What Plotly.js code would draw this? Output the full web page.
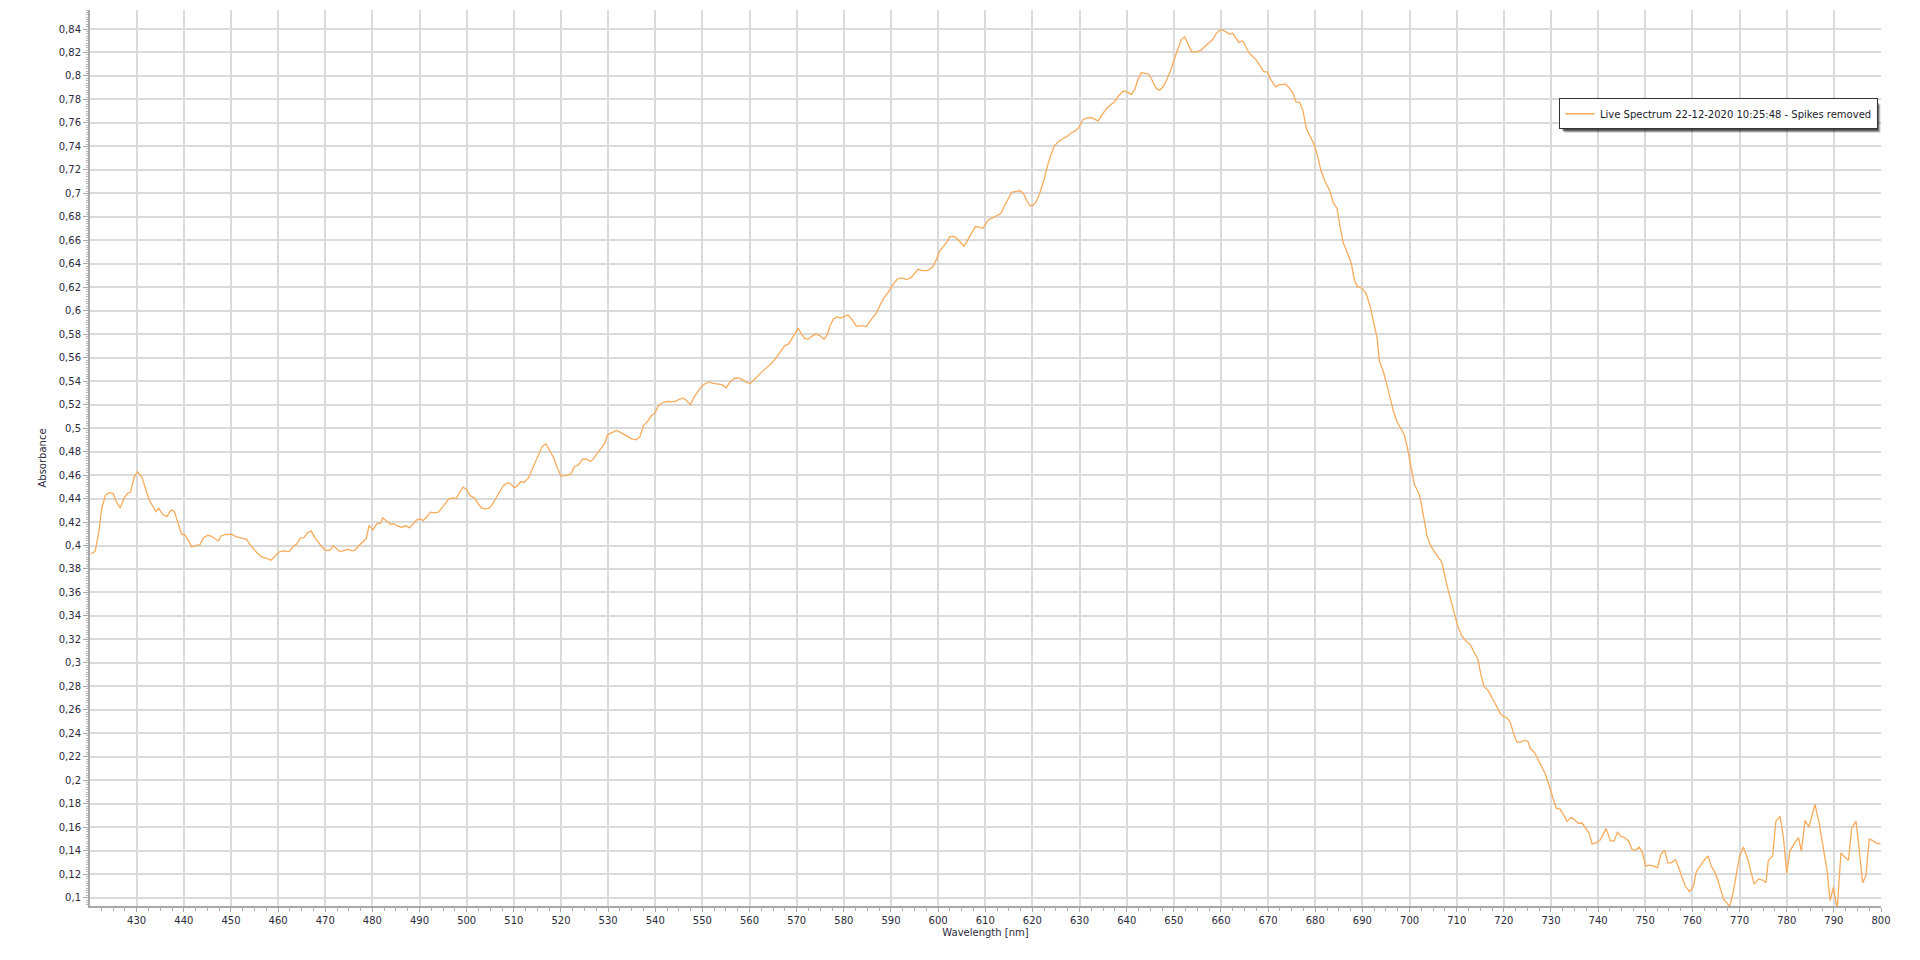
<!DOCTYPE html>
<html>
<head>
<meta charset="utf-8">
<script src="https://cdn.plot.ly/plotly-3.0.1.min.js"></script>
<style>
  html, body { margin: 0; padding: 0; background: #ffffff; }
  #chart { width: 1920px; height: 960px; }
</style>
</head>
<body>
<div id="chart"></div>
<script>
const seriesName = "Live Spectrum 22-12-2020 10:25:48 - Spikes removed";

const wavelength = [
420.3,421.2,421.9,422.6,423.4,424.1,425.0,425.7,426.5,427.4,428.1,428.7,429.5,430.2,431.1,431.8,432.6,433.4,434.1,434.7,
435.5,436.4,437.3,438.0,438.7,439.5,440.3,441.0,441.7,442.6,443.4,444.2,445.1,445.8,446.5,447.3,447.9,448.7,450.2,451.2,
452.3,453.3,454.0,454.8,455.7,456.5,457.6,458.5,459.3,460.2,461.1,462.4,463.2,463.9,464.7,465.5,466.2,467.0,467.8,468.8,
469.4,470.1,471.0,471.7,472.4,473.1,474.1,474.9,475.6,476.2,477.0,477.9,478.7,479.3,
480.1,480.9,481.7,482.2,483.1,483.9,484.6,485.5,486.3,487.0,487.9,488.6,489.4,490.1,490.8,491.6,492.3,493.1,494.0,494.7,
495.4,496.2,497.1,497.8,498.5,499.2,500.0,500.7,501.6,502.3,503.1,503.9,504.8,505.3,506.1,507.0,507.8,508.7,509.2,510.1,
510.8,511.5,512.2,513.1,513.8,514.5,515.2,516.0,516.8,517.6,518.4,519.1,520.0,520.9,522.1,522.9,523.7,524.6,525.3,526.2,
526.9,527.6,528.5,529.2,529.9,530.8,531.7,532.4,533.3,534.1,535.0,535.9,536.7,537.5,538.4,539.2,539.9,540.7,541.6,542.5,543.5,
544.1,545.8,546.5,547.5,548.2,548.9,549.8,550.5,551.4,552.3,553.3,554.2,555.0,555.8,556.7,557.6,558.5,559.3,560.2,561.1,
562.0,562.9,563.9,564.9,565.7,566.6,567.5,568.3,569.1,569.8,570.3,571.0,571.7,572.4,573.2,574.0,574.9,575.8,576.5,577.1,
577.8,578.5,579.3,580.2,580.9,581.9,582.7,583.8,584.8,585.9,587.0,587.7,588.5,589.4,590.4,591.4,592.3,593.3,594.2,595.0,
595.8,596.7,597.7,598.8,599.7,600.3,601.1,601.8,602.5,603.4,604.1,604.8,605.5,606.2,607.0,607.9,608.8,609.5,
610.6,611.5,612.6,613.3,614.1,614.8,615.6,616.5,617.4,618.1,618.8,619.5,620.2,620.9,621.6,622.5,623.2,624.0,624.7,625.6,
626.6,627.4,628.3,629.2,629.9,630.7,631.5,632.5,633.3,633.9,634.8,635.7,636.6,637.4,638.2,639.3,640.1,641.0,641.7,642.4,
643.1,644.0,644.7,645.4,646.3,647.0,647.8,648.6,649.4,650.2,650.9,651.6,652.3,653.0,653.8,654.8,655.8,656.5,657.4,658.3,
659.0,659.7,660.4,661.1,661.9,662.5,663.1,663.8,664.6,665.3,666.0,666.8,667.5,668.2,
669.1,669.8,670.5,671.6,672.3,673.7,674.4,675.2,675.9,676.7,677.4,678.1,679.0,679.8,680.5,681.2,682.1,683.1,683.8,684.6,
685.3,685.9,686.7,687.6,688.3,689.0,689.9,690.8,691.7,692.4,693.1,693.6,694.5,695.2,695.9,696.6,697.3,698.2,698.9,699.6,
700.3,701.0,
701.3,702.1,702.7,703.2,703.7,704.5,705.2,706.0,706.8,707.3,708.0,708.7,709.4,710.1,711.0,711.9,712.8,713.6,714.5,715.1,
715.8,716.6,717.5,718.4,719.2,719.9,720.6,721.3,722.0,722.7,723.4,724.4,725.1,725.7,726.5,727.2,728.1,728.8,729.5,730.2,
731.1,731.9,732.6,733.4,734.3,735.0,735.8,736.6,737.4,738.1,738.7,739.6,
740.5,741.7,742.6,743.4,744.1,744.8,745.6,746.5,747.2,747.9,748.7,749.4,750.1,750.9,751.8,752.6,753.3,754.1,754.8,755.5,
756.4,757.1,757.8,758.5,759.4,760.2,760.8,761.7,762.5,763.3,764.0,764.7,765.4,766.0,766.7,767.4,767.9,768.6,769.3,770.0,
770.8,771.7,772.4,773.1,774.0,774.9,775.6,776.1,777.0,777.7,778.6,779.3,780.0,780.7,781.6,782.5,783.1,783.9,784.7,785.5,
786.0,786.9,787.8,788.6,789.2,789.9,790.7,791.5,792.4,793.1,793.8,794.7,795.4,796.1,796.8,797.5,798.2,799.1,799.9
];

const absorbance = [
0.393,0.395,0.410,0.432,0.443,0.445,0.4445,0.437,0.432,0.441,0.4445,0.4456,0.4587,0.4627,0.4584,0.4493,0.4394,0.4337,0.4289,0.4317,
0.4266,0.4246,0.4303,0.4289,0.4209,0.4101,0.4087,0.4039,0.3988,0.4002,0.4005,0.4067,0.4087,0.4081,0.4062,0.4039,0.4081,0.4093,0.4096,0.4073,
0.4062,0.4053,0.4010,0.3968,0.3931,0.3903,0.3891,0.3874,0.3911,0.3945,0.3954,0.3948,0.3991,0.4010,0.4062,0.4067,0.4107,0.4124,0.4067,0.4019,
0.3982,0.3959,0.3959,0.3999,0.3974,0.3948,0.3959,0.3968,0.3954,0.3959,0.3993,0.4025,0.4059,0.4172,
0.4133,0.4184,0.4190,0.4236,0.4207,0.4179,0.4184,0.4162,0.4156,0.4170,0.4150,0.4184,0.4219,0.4227,0.4213,0.4247,0.4284,0.4278,0.4284,0.4318,
0.4355,0.4397,0.4406,0.4400,0.4454,0.4497,0.4477,0.4426,0.4406,0.4361,0.4321,0.4312,0.4318,0.4341,0.4397,0.4463,0.4511,0.4534,0.4531,0.4491,
0.4511,0.4545,0.4539,0.4576,0.4639,0.4701,0.4775,0.4843,0.4866,0.4804,0.4752,0.4673,0.4591,0.4596,0.4610,0.4676,0.4687,0.4735,0.4738,0.4716,
0.4738,0.4781,0.4829,0.4866,0.4943,0.4965,0.4980,0.4968,0.4946,0.4929,0.4909,0.4900,0.4923,0.5022,0.5059,0.5107,0.5127,0.5193,0.5218,0.5227,0.5230,
0.5226,0.5257,0.5240,0.5200,0.5262,0.5305,0.5353,0.5376,0.5393,0.5382,0.5376,0.5370,0.5342,0.5390,0.5424,0.5427,0.5413,0.5390,0.5382,0.5419,
0.5461,0.5490,0.5524,0.5561,0.5603,0.5654,0.5703,0.5717,0.5765,0.5816,0.5853,0.5802,0.5765,0.5757,0.5782,0.5802,0.5788,0.5757,0.5796,0.5873,
0.5930,0.5950,0.5938,0.5953,0.5964,0.5916,0.5867,0.5873,0.5865,0.5930,0.5987,0.6049,0.6109,0.6157,0.6222,0.6271,0.6279,0.6265,0.6279,0.6319,
0.6353,0.6342,0.6342,0.6370,0.6441,0.6506,0.6546,0.6583,0.6631,0.6634,0.6611,0.6575,0.6549,0.6597,0.6660,0.6717,0.6711,0.6702,
0.6771,0.6788,0.6808,0.6828,0.6894,0.6951,0.7008,0.7016,0.7022,0.6999,0.6936,0.6894,0.6899,0.6936,0.7008,0.7122,0.7236,0.7336,0.7407,0.7444,
0.7464,0.7487,0.7516,0.7536,0.7564,0.7627,0.7641,0.7644,0.7630,0.7615,0.7670,0.7721,0.7755,0.7778,0.7827,0.7872,0.7864,0.7844,0.7884,0.7972,
0.8029,0.8021,0.8015,0.7964,0.7892,0.7878,0.7912,0.7978,0.8055,0.8155,0.8240,0.8312,0.8334,0.8269,0.8206,0.8206,0.8220,0.8249,0.8277,0.8312,
0.8363,0.8391,0.8391,0.8374,0.8357,0.8363,0.8326,0.8286,0.8300,0.8249,0.8192,0.8163,0.8135,0.8092,
0.8035,0.8035,0.7973,0.7907,0.7925,0.7930,0.7902,0.7859,0.7780,0.7774,0.7703,0.7555,0.7481,0.7413,0.7320,0.7192,0.7098,0.7021,0.6922,0.6874,
0.6709,0.6581,0.6505,0.6411,0.6260,0.6203,0.6192,0.6147,0.6027,0.5908,0.5772,0.5573,0.5474,0.5369,0.5246,0.5141,0.5056,0.4991,0.4942,0.4820,
0.4678,0.4522,
0.4499,0.4431,0.4309,0.4196,0.4082,0.3997,0.3949,0.3903,0.3864,0.3770,0.3648,0.3543,0.3429,0.3330,0.3236,0.3188,0.3160,0.3103,0.3032,0.2904,
0.2797,0.2768,0.2706,0.2635,0.2570,0.2544,0.2535,0.2501,0.2408,0.2331,0.2323,0.2342,0.2331,0.2266,0.2237,0.2181,0.2115,0.2053,0.1968,0.1883,
0.1763,0.1755,0.1712,0.1650,0.1684,0.1661,0.1633,0.1636,0.1593,0.1548,0.1457,0.1466,
0.1495,0.1588,0.1483,0.1483,0.1560,0.1523,0.1512,0.1481,0.1410,0.1404,0.1432,0.1382,0.1269,0.1277,0.1269,0.1254,0.1370,0.1404,0.1297,0.1297,
0.1325,0.1257,0.1172,0.1099,0.1051,0.1093,0.1220,0.1277,0.1319,0.1356,0.1269,0.1220,0.1150,0.1065,0.0980,0.0952,0.0920,0.1037,0.1192,0.1353,
0.1432,0.1334,0.1220,0.1116,0.1158,0.1150,0.1127,0.1319,0.1353,0.1650,0.1693,0.1517,0.1206,0.1399,0.1461,0.1512,0.1396,0.1659,0.1602,0.1724,
0.1794,0.1630,0.1404,0.1220,0.0975,0.1088,0.0900,0.1382,0.1342,0.1319,0.1596,0.1650,0.1404,0.1127,0.1187,0.1498,0.1489,0.1461,0.1461
];

const xTitle = "Wavelength [nm]";
const yTitle = "Absorbance";

const font = { family: "DejaVu Sans, Verdana, sans-serif", size: 10, color: "#2a2a3a" };

const trace = {
  type: "scatter",
  mode: "lines",
  name: seriesName,
  x: wavelength,
  y: absorbance,
  line: { color: "#f7ab5c", width: 1.3 },
  hoverinfo: "x+y"
};

const layout = {
  width: 1920,
  height: 960,
  paper_bgcolor: "#ffffff",
  plot_bgcolor: "#ffffff",
  separators: ", ",
  font: font,
  margin: { l: 90, r: 39, t: 10, b: 54, pad: 0 },
  showlegend: true,
  legend: {
    x: 0.9983, xanchor: "right",
    y: 0.9015, yanchor: "top",
    bgcolor: "#ffffff",
    bordercolor: "#333333",
    borderwidth: 1,
    font: { family: font.family, size: 10, color: "#1a1a2a" }
  },
  xaxis: {
    range: [420.1, 800],
    tick0: 430, dtick: 10,
    showgrid: true, gridcolor: "#dadada", gridwidth: 1.5,
    zeroline: false,
    showline: true, linecolor: "#a8a8a8", linewidth: 2,
    ticks: "outside", ticklen: 4, tickcolor: "#a8a8a8", tickwidth: 1,
    minor: { dtick: 2.5, ticks: "outside", ticklen: 3, tickcolor: "#b0b0b0", showgrid: false },
    tickfont: font,
    title: { text: xTitle, font: font, standoff: 4 }
  },
  yaxis: {
    range: [0.0929, 0.8562],
    tick0: 0, dtick: 0.02,
    showgrid: true, gridcolor: "#dadada", gridwidth: 1.5,
    zeroline: false,
    showline: true, linecolor: "#a8a8a8", linewidth: 2,
    ticks: "outside", ticklen: 5, tickcolor: "#a8a8a8", tickwidth: 1,
    minor: { dtick: 0.002, ticks: "outside", ticklen: 2, tickcolor: "#b8b8b8", showgrid: false },
    tickfont: font,
    title: { text: yTitle, font: font, standoff: 10 }
  }
};

const gd = document.getElementById("chart");
Plotly.newPlot(gd, [trace], layout, { displayModeBar: false, responsive: false }).then(function () {
  // soft drop shadow under the legend box, sized from the rendered legend
  const bg = gd.querySelector(".legend .bg");
  if (!bg) return;
  const r = bg.getBoundingClientRect();
  const c = gd.getBoundingClientRect();
  const fs = gd._fullLayout._size;
  const toX = function (px) { return (px - c.left - fs.l) / fs.w; };
  const toY = function (py) { return 1 - (py - c.top - fs.t) / fs.h; };
  const shadows = [
    { dx: 3, dy: 4, op: 0.18 },
    { dx: 2, dy: 3, op: 0.3 },
    { dx: 1, dy: 2, op: 0.45 }
  ].map(function (s) {
    return {
      type: "rect", xref: "paper", yref: "paper", layer: "above",
      x0: toX(r.left + s.dx + 2), x1: toX(r.right + s.dx),
      y0: toY(r.bottom + s.dy), y1: toY(r.top + s.dy + 2),
      fillcolor: "rgba(0,0,0," + s.op + ")", line: { width: 0 }
    };
  });
  Plotly.relayout(gd, { shapes: shadows });
});
</script>
</body>
</html>
